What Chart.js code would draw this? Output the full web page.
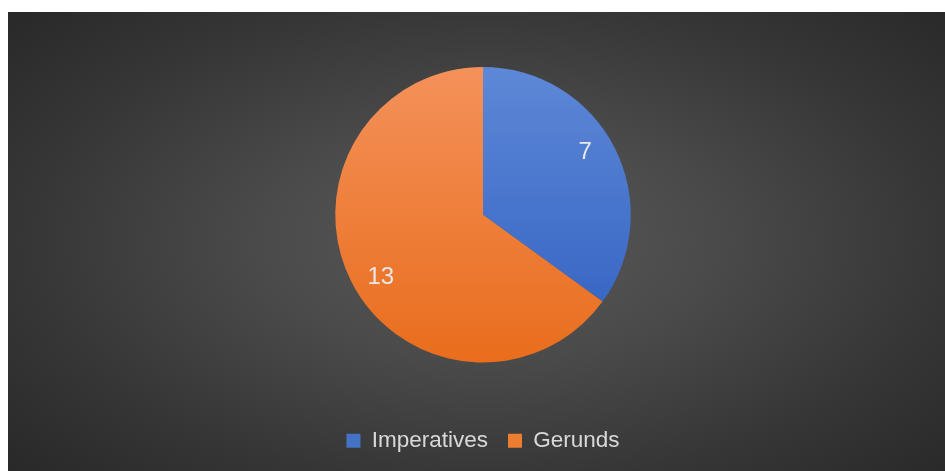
<!DOCTYPE html>
<html>
<head>
<meta charset="utf-8">
<script src="https://cdn.jsdelivr.net/npm/chart.js@4.4.1/dist/chart.umd.min.js"></script>
<style>
  html, body { margin: 0; padding: 0; background: #ffffff; width: 945px; height: 471px; overflow: hidden; }
  #wrap {
    position: absolute; left: 8px; top: 12px; width: 937px; height: 459px;
    background: radial-gradient(ellipse 70% 75% at 51% 50%, #595959 0%, #4a4a4a 35%, #363636 70%, #282828 100%);
  }
  canvas { display: block; }
</style>
</head>
<body>
<div id="wrap"><canvas id="c"></canvas></div>
<script>
const categories = ["Imperatives", "Gerunds"];
const values = [7, 13];
const gradTop = ["#5e88d7", "#f4915a"];
const gradBottom = ["#2f5fc0", "#e96d1c"];
const legendColors = ["#4472c4", "#ed7d31"];

function sliceFill(ctx) {
  const chart = ctx.chart;
  const area = chart.chartArea;
  if (!area) return legendColors[ctx.dataIndex];
  const g = chart.ctx.createLinearGradient(0, area.top, 0, area.bottom);
  g.addColorStop(0, gradTop[ctx.dataIndex]);
  g.addColorStop(1, gradBottom[ctx.dataIndex]);
  return g;
}

const valueLabels = {
  id: 'valueLabels',
  afterDatasetsDraw(chart) {
    const meta = chart.getDatasetMeta(0);
    const c = chart.ctx;
    c.save();
    c.font = '24px "Liberation Sans", Arial, sans-serif';
    c.fillStyle = '#e8e8e8';
    c.textAlign = 'center';
    c.textBaseline = 'middle';
    meta.data.forEach((arc, i) => {
      const p = arc.getProps(['x', 'y', 'startAngle', 'endAngle', 'outerRadius'], true);
      const mid = (p.startAngle + p.endAngle) / 2 - 0.075;
      const r = p.outerRadius * 0.81;
      c.fillText(String(chart.data.datasets[0].data[i]), p.x + Math.cos(mid) * r, p.y + Math.sin(mid) * r);
    });
    c.restore();
  }
};

new Chart(document.getElementById('c'), {
  type: 'pie',
  data: {
    labels: categories,
    datasets: [{
      data: values,
      backgroundColor: sliceFill,
      borderWidth: 0
    }]
  },
  options: {
    responsive: true,
    maintainAspectRatio: false,
    animation: false,
    layout: { padding: { top: 55, left: 13, right: 0, bottom: 9 } },
    plugins: {
      tooltip: { enabled: false },
      legend: {
        position: 'bottom',
        title: { display: true, text: '', font: { size: 10, lineHeight: 1 }, padding: { top: 37, bottom: 0 } },
        labels: {
          boxWidth: 14,
          boxHeight: 14,
          padding: 20,
          color: '#d9d9d9',
          font: { size: 22.5, family: '"Liberation Sans", Arial, sans-serif' },
          generateLabels(chart) {
            return chart.data.labels.map((l, i) => ({
              text: l, fillStyle: legendColors[i], strokeStyle: legendColors[i],
              lineWidth: 0, fontColor: '#d9d9d9', index: i, hidden: false
            }));
          }
        }
      }
    }
  },
  plugins: [valueLabels]
});
</script>
</body>
</html>
